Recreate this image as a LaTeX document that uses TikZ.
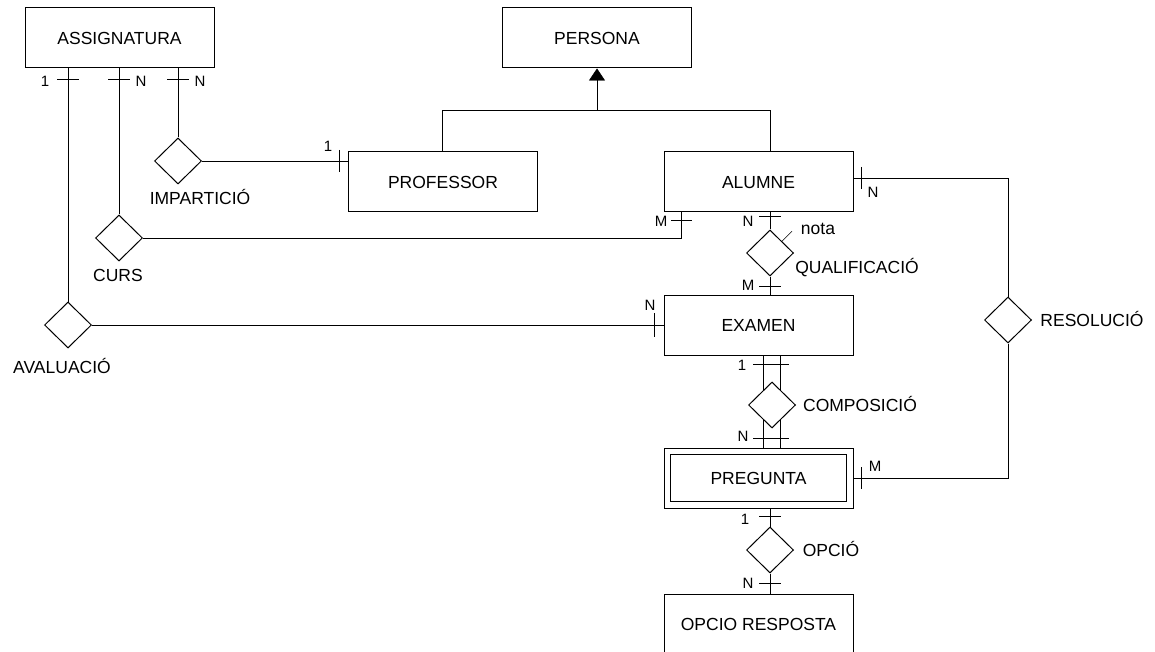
\documentclass[tikz,border=0pt]{standalone}
\usepackage{fontspec}
\setmainfont{Liberation Sans}
\usetikzlibrary{shapes.geometric,arrows.meta,backgrounds}
\newcommand\entfont{\fontsize{17.5pt}{20pt}\selectfont}
\newcommand\cardfont{\fontsize{15pt}{17pt}\selectfont}
\begin{document}
\begin{tikzpicture}[x=1pt,y=-1pt,line width=1pt,
  ent/.style={draw, fill=white, minimum width=189pt, minimum height=60pt, inner sep=0pt, font=\entfont, text height=12.5pt, text depth=0pt},
  rel/.style={draw, fill=white, diamond, minimum width=47pt, minimum height=46pt, inner sep=0pt},
  lbl/.style={inner sep=0pt, font=\entfont, text height=12.5pt, text depth=0pt},
  card/.style={inner sep=0pt, font=\cardfont, text height=10.7pt, text depth=0pt},
  tk/.style={line width=1pt}]
\useasboundingbox (0,0) rectangle (1155,652);
\clip (0,0) rectangle (1155,652);

% entities
\node[ent] (assignatura) at (119.5,38) {ASSIGNATURA};
\node[ent] (persona) at (597,38) {PERSONA};
\node[ent] (professor) at (443,182) {PROFESSOR};
\node[ent] (alumne) at (758.5,182) {ALUMNE};
\node[ent] (examen) at (758.5,325) {EXAMEN};
\node[ent] (pregunta) at (758.5,478) {PREGUNTA};
\node[ent] (opcioresp) at (758.5,624) {OPCIO RESPOSTA};
\draw ([shift={(7pt,-7pt)}]pregunta.north west) rectangle ([shift={(-7pt,7pt)}]pregunta.south east);

% relationships
\node[rel] (imparticio) at (178,161) {};
\node[rel] (curs) at (119,238) {};
\node[rel] (avaluacio) at (68,325) {};
\node[rel] (qualificacio) at (770,253) {};
\node[rel] (composicio) at (772,405) {};
\node[rel] (resolucio) at (1008,320) {};
\node[rel] (opcio) at (770,550) {};

% relationship labels
\node[lbl] (limparticio) at (200,198) {IMPARTICIÓ};
\node[lbl] (lcurs) at (118,275) {CURS};
\node[lbl] (lavaluacio) at (62,367) {AVALUACIÓ};
\node[lbl] (lqualificacio) at (857,267) {QUALIFICACIÓ};
\node[lbl] (lcomposicio) at (860,405) {COMPOSICIÓ};
\node[lbl] (lresolucio) at (1092,320) {RESOLUCIÓ};
\node[lbl] (lopcio) at (831,550) {OPCIÓ};
\node[inner sep=0pt, font=\entfont] (lnota) at (818,229) {nota};

% inheritance
\coordinate (inhl) at (442,110);
\coordinate (inhr) at (770,110);
\coordinate (inhm) at (597,110);

\begin{scope}[on background layer]
\fill[white] (0,0) rectangle (1155,652);
\draw (inhl |- professor.north) -- (inhl) -- (inhr) -- (inhr |- alumne.north);
\draw[-{Triangle[length=12pt,width=16pt]}] (inhm) -- (persona.south);

\draw (imparticio.north) -- (imparticio.north |- assignatura.south);
\draw (imparticio.east) -- (professor.west |- imparticio.east);
\draw (curs.north) -- (curs.north |- assignatura.south);
\draw (curs.east) -| ([xshift=-77.5pt]alumne.south);
\draw (avaluacio.north) -- (avaluacio.north |- assignatura.south);
\draw (avaluacio.east) -- (examen.west);
\draw (qualificacio.north) -- (qualificacio.north |- alumne.south);
\draw (qualificacio.south) -- (qualificacio.south |- examen.north);
\draw (qualificacio.north east) -- ++(10pt,10pt);
\draw ([xshift=-8.5pt]composicio.center |- examen.south) -- ([xshift=-8.5pt]composicio.center |- pregunta.north);
\draw ([xshift=8.5pt]composicio.center |- examen.south) -- ([xshift=8.5pt]composicio.center |- pregunta.north);
\draw ([yshift=4pt]alumne.east) -| (resolucio.north);
\draw (resolucio.south) |- (pregunta.east);
\draw (opcio.north) -- (opcio.north |- pregunta.south);
\draw (opcio.south) -- (opcio.south |- opcioresp.north);
\end{scope}

% ticks
\draw[tk] (57,80) -- (79,80);
\draw[tk] (108,80) -- (130,80);
\draw[tk] (167,80) -- (189,80);
\draw[tk] (339,150) -- (339,172);
\draw[tk] (861,167) -- (861,189);
\draw[tk] (861,467) -- (861,489);
\draw[tk] (671,221) -- (692,221);
\draw[tk] (759,217) -- (781,217);
\draw[tk] (759,286) -- (781,286);
\draw[tk] (654,313) -- (654,337);
\draw[tk] (753,364) -- (789,364);
\draw[tk] (753,438) -- (789,438);
\draw[tk] (759,516) -- (781,516);
\draw[tk] (759,583) -- (781,583);

% cardinalities
\node[card] (c1) at (45,81) {1};
\node[card] (c2) at (141,81) {N};
\node[card] (c3) at (200,81) {N};
\node[card] (c4) at (328,146) {1};
\node[card] (c5) at (873,192) {N};
\node[card] (c6) at (875,466) {M};
\node[card] (c7) at (661,221) {M};
\node[card] (c8) at (748,221) {N};
\node[card] (c9) at (748,285) {M};
\node[card] (c10) at (650,305) {N};
\node[card] (c11) at (742,365) {1};
\node[card] (c12) at (743,436) {N};
\node[card] (c13) at (745,519) {1};
\node[card] (c14) at (748,583) {N};
\end{tikzpicture}
\end{document}
